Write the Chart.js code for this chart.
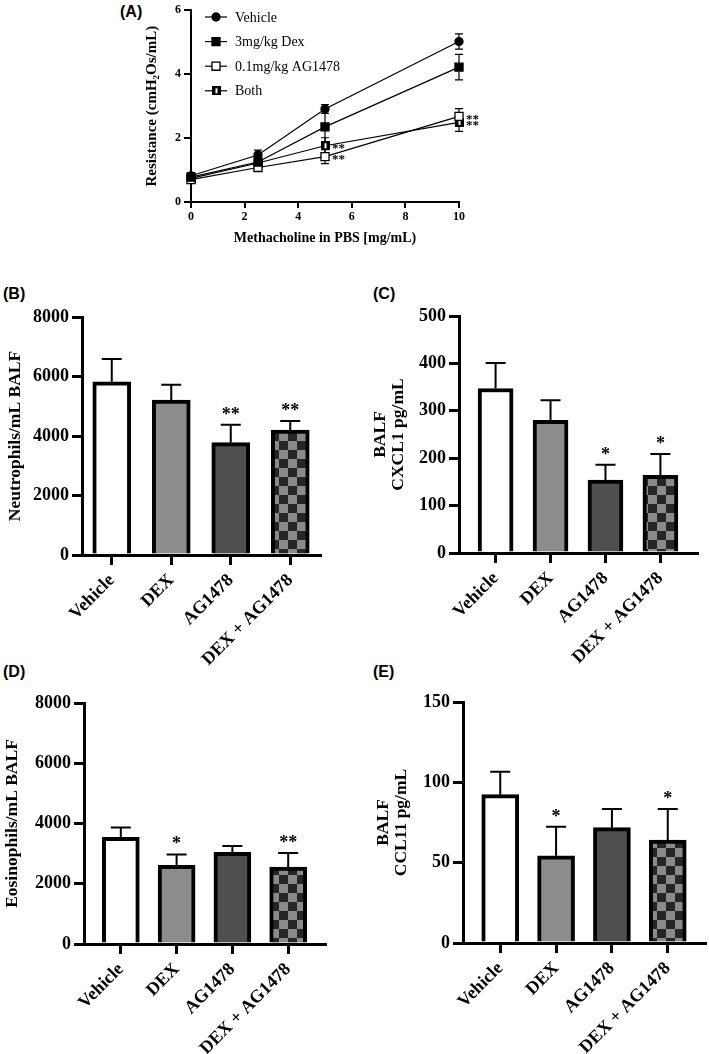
<!DOCTYPE html>
<html>
<head>
<meta charset="utf-8">
<script src="https://cdn.jsdelivr.net/npm/chart.js@4.4.1/dist/chart.umd.min.js"></script>
<style>
  html, body { margin: 0; padding: 0; background: #fff; }
  body { position: relative; width: 709px; height: 1054px; overflow: hidden; }
  .panel { position: absolute; }
  .tag { position: absolute; font: bold 16px "Liberation Sans", Arial, sans-serif; color: #000; }
</style>
</head>
<body>
<div class="tag" style="left:120px;top:3px">(A)</div>
<div class="tag" style="left:3px;top:285px">(B)</div>
<div class="tag" style="left:373px;top:285px">(C)</div>
<div class="tag" style="left:3px;top:663px">(D)</div>
<div class="tag" style="left:373px;top:663px">(E)</div>

<div class="panel" style="left:140px;top:0;width:360px;height:250px"><canvas id="chartA"></canvas></div>
<div class="panel" style="left:0;top:270px;width:345px;height:400px"><canvas id="chartB"></canvas></div>
<div class="panel" style="left:360px;top:270px;width:349px;height:400px"><canvas id="chartC"></canvas></div>
<div class="panel" style="left:0;top:650px;width:345px;height:404px"><canvas id="chartD"></canvas></div>
<div class="panel" style="left:360px;top:650px;width:349px;height:404px"><canvas id="chartE"></canvas></div>

<script>
// ---- Panel A: airway resistance vs methacholine dose
const doseX = [0, 2.5, 5, 10];
const seriesNames = ['Vehicle', '3mg/kg Dex', '0.1mg/kg AG1478', 'Both'];
const vehicleRes = [0.82, 1.47, 2.91, 5.02];
const dexRes = [0.78, 1.25, 2.35, 4.22];
const agRes = [0.70, 1.08, 1.42, 2.68];
const bothRes = [0.74, 1.22, 1.76, 2.49];
const vehicleResErr = [0.10, 0.15, 0.14, 0.24];
const dexResErr = [0.10, 0.10, 0.55, 0.40];
const agResErr = [0.10, 0.08, 0.22, 0.24];
const bothResErr = [0.10, 0.10, 0.25, 0.28];
// [series index, point index] of the ** marks
const resStars = [[3, 2], [2, 2], [2, 3], [3, 3]];
const resYTicks = [0, 2, 4, 6];
const resXTicks = [0, 2, 4, 6, 8, 10];

// ---- Panels B-E: BALF bars
const groups = ['Vehicle', 'DEX', 'AG1478', 'DEX + AG1478'];
const neutrophils = [5820, 5210, 3775, 4200];
const neutrophilsErr = [770, 515, 605, 305];
const neutrophilsSig = ['', '', '**', '**'];
const cxcl1 = [347, 280, 154, 164];
const cxcl1Err = [54, 42, 32, 45];
const cxcl1Sig = ['', '', '*', '*'];
const eosinophils = [3540, 2610, 3040, 2556];
const eosinophilsErr = [330, 365, 213, 465];
const eosinophilsSig = ['', '*', '', '**'];
const ccl11 = [92.3, 54.3, 71.8, 64.1];
const ccl11Err = [14.3, 18.1, 11.6, 19.3];
const ccl11Sig = ['', '*', '', '*'];

const serif = '"Liberation Serif", "Times New Roman", serif';

// marker for the "Both" series
function bothMarker() {
    const c = document.createElement('canvas');
    c.width = 9; c.height = 9;
    const g = c.getContext('2d');
    g.fillStyle = '#000';
    g.fillRect(0, 0, 9, 9);
    g.fillStyle = '#fff';
    g.fillRect(4, 2, 2, 5);
    return c;
}

function checkerPattern() {
    const c = document.createElement('canvas');
    c.width = 18; c.height = 18;
    const g = c.getContext('2d');
    g.fillStyle = '#8a8a8a';
    g.fillRect(0, 0, 18, 18);
    g.fillStyle = '#262626';
    g.fillRect(0, 0, 9, 9);
    g.fillRect(9, 9, 9, 9);
    return g.createPattern(c, 'repeat');
}

const resErrors = [vehicleResErr, dexResErr, agResErr, bothResErr];

const resExtras = {
    id: 'resExtras',
    beforeDatasetsDraw(chart) {
        const { ctx, scales: { y } } = chart;
        ctx.save();
        ctx.strokeStyle = '#000';
        ctx.lineWidth = 1.2;
        chart.data.datasets.forEach((ds, di) => {
            const meta = chart.getDatasetMeta(di);
            meta.data.forEach((pt, i) => {
                const v = ds.data[i].y;
                const e = resErrors[di][i];
                const top = y.getPixelForValue(v + e);
                const bot = y.getPixelForValue(v - e);
                ctx.beginPath();
                ctx.moveTo(pt.x, top); ctx.lineTo(pt.x, bot);
                ctx.moveTo(pt.x - 4, top); ctx.lineTo(pt.x + 4, top);
                ctx.moveTo(pt.x - 4, bot); ctx.lineTo(pt.x + 4, bot);
                ctx.stroke();
            });
        });
        ctx.restore();
    },
    afterDatasetsDraw(chart) {
        const { ctx } = chart;
        ctx.save();
        ctx.fillStyle = '#000';
        ctx.font = 'bold 13px ' + serif;
        ctx.textAlign = 'left';
        ctx.textBaseline = 'middle';
        resStars.forEach(([di, i]) => {
            const pt = chart.getDatasetMeta(di).data[i];
            ctx.fillText('**', pt.x + 7, pt.y + 3);
        });
        // legend, top left inside the plot
        ctx.font = '14px ' + serif;
        chart.data.datasets.forEach((ds, di) => {
            const ly = 17 + di * 24.6;
            ctx.strokeStyle = '#000';
            ctx.lineWidth = 1.2;
            ctx.beginPath();
            ctx.moveTo(65, ly); ctx.lineTo(87, ly);
            ctx.stroke();
            ctx.fillStyle = ds.pointBackgroundColor;
            ctx.strokeStyle = '#000';
            ctx.lineWidth = ds.pointBorderWidth;
            Chart.helpers.drawPoint(ctx, {
                pointStyle: ds.pointStyle,
                radius: ds.pointRadius,
                borderWidth: ds.pointBorderWidth
            }, 76, ly);
            ctx.fillStyle = '#000';
            ctx.fillText(ds.label, 95, ly + 1);
        });
        ctx.restore();
    }
};

const resSeries = [vehicleRes, dexRes, agRes, bothRes];
const pointStyles = ['circle', 'rect', 'rect', bothMarker()];
const pointRadii = [4, 5.7, 5.7, 5];
const pointFills = ['#000', '#000', '#fff', '#000'];

new Chart(document.getElementById('chartA'), {
    type: 'line',
    data: {
        datasets: resSeries.map((vals, si) => ({
            label: seriesNames[si],
            data: doseX.map((d, i) => ({ x: d, y: vals[i] })),
            borderColor: '#000',
            borderWidth: 1.2,
            pointStyle: pointStyles[si],
            pointRadius: pointRadii[si],
            pointBackgroundColor: pointFills[si],
            pointBorderColor: '#000',
            pointBorderWidth: 1.3,
            tension: 0,
            clip: false
        }))
    },
    plugins: [resExtras],
    options: {
        responsive: true,
        maintainAspectRatio: false,
        animation: false,
        layout: { padding: { top: 6, right: 41, left: 0, bottom: 0 } },
        plugins: { legend: { display: false }, tooltip: { enabled: false } },
        scales: {
            x: {
                type: 'linear', min: 0, max: 10,
                afterFit: s => { s.height = 48; },
                afterBuildTicks: s => { s.ticks = resXTicks.map(v => ({ value: v })); },
                border: { color: '#000', width: 2 },
                grid: { drawOnChartArea: false, color: '#000', lineWidth: 2, tickLength: 6 },
                ticks: { color: '#000', padding: 2, font: { family: serif, size: 12, weight: 'bold' } },
                title: {
                    display: true, text: 'Methacholine in PBS [mg/mL)', color: '#000',
                    padding: { top: 0, bottom: 3 },
                    font: { family: serif, size: 14, weight: 'bold' }
                }
            },
            y: {
                min: 0, max: 6,
                afterFit: s => { s.width = 51; },
                afterBuildTicks: s => { s.ticks = resYTicks.map(v => ({ value: v })); },
                border: { color: '#000', width: 2 },
                grid: { drawOnChartArea: false, color: '#000', lineWidth: 2, tickLength: 7 },
                ticks: { color: '#000', padding: 3, font: { family: serif, size: 12, weight: 'bold' } },
                title: {
                    display: true, text: 'Resistance (cmH₂Os/mL)', color: '#000',
                    padding: { top: 3 },
                    font: { family: serif, size: 15, weight: 'bold' }
                }
            }
        }
    }
});

// error bars and significance marks above bars
const barExtras = {
    id: 'barExtras',
    afterDatasetsDraw(chart, args, opts) {
        const { ctx, scales: { x, y } } = chart;
        const vals = chart.data.datasets[0].data;
        ctx.save();
        ctx.strokeStyle = '#000';
        ctx.fillStyle = '#000';
        ctx.lineWidth = 2;
        ctx.font = 'bold 18px ' + serif;
        ctx.textAlign = 'center';
        ctx.textBaseline = 'alphabetic';
        vals.forEach((v, i) => {
            const px = x.getPixelForValue(i);
            const base = y.getPixelForValue(v);
            const top = y.getPixelForValue(v + opts.err[i]);
            ctx.beginPath();
            ctx.moveTo(px, base); ctx.lineTo(px, top);
            ctx.moveTo(px - 10, top); ctx.lineTo(px + 10, top);
            ctx.stroke();
            if (opts.sig[i]) ctx.fillText(opts.sig[i], px, top - 5);
        });
        ctx.restore();
    }
};

function barPanel(id, values, errs, sig, yTitle, yMax, yStep, layout) {
    const canvas = document.getElementById(id);
    const pattern = checkerPattern();
    return new Chart(canvas, {
        type: 'bar',
        data: {
            labels: groups,
            datasets: [{
                data: values,
                backgroundColor: ['#ffffff', '#8c8c8c', '#4f4f4f', pattern],
                borderColor: '#000',
                borderWidth: 4,
                barThickness: layout.barW
            }]
        },
        plugins: [barExtras],
        options: {
            responsive: true,
            maintainAspectRatio: false,
            animation: false,
            layout: { padding: { top: layout.padTop, right: layout.padRight, left: 0, bottom: 0 } },
            plugins: {
                legend: { display: false },
                tooltip: { enabled: false },
                barExtras: { err: errs, sig: sig }
            },
            scales: {
                x: {
                    afterFit: s => { s.height = layout.xH; },
                    afterBuildTicks: s => {
                        s._startValue -= layout.margin;
                        s._valueRange += 2 * layout.margin;
                    },
                    border: { color: '#000', width: 3 },
                    grid: { drawOnChartArea: false, offset: false, color: '#000', lineWidth: 3, tickLength: 10 },
                    ticks: {
                        color: '#000', padding: 5, minRotation: 45, maxRotation: 45, autoSkip: false,
                        font: { family: serif, size: 18, weight: 'bold' }
                    }
                },
                y: {
                    min: 0, max: yMax,
                    afterFit: s => { s.width = layout.yW; },
                    border: { color: '#000', width: 3 },
                    grid: { drawOnChartArea: false, color: '#000', lineWidth: 3, tickLength: 10 },
                    ticks: {
                        stepSize: yStep, color: '#000', padding: 3,
                        callback: v => String(v),
                        font: { family: serif, size: 18, weight: 'bold' }
                    },
                    title: {
                        display: true, text: yTitle, color: '#000',
                        padding: { top: layout.titlePad },
                        font: { family: serif, size: 17.5, weight: 'bold', lineHeight: 1.05 }
                    }
                }
            }
        }
    });
}

barPanel('chartB', neutrophils, neutrophilsErr, neutrophilsSig, 'Neutrophils/mL BALF', 8000, 2000,
    { padTop: 47, padRight: 25, xH: 115, yW: 82, margin: 0, barW: 38, titlePad: 6 });
barPanel('chartC', cxcl1, cxcl1Err, cxcl1Sig, ['BALF', 'CXCL1 pg/mL'], 500, 100,
    { padTop: 46, padRight: 12, xH: 117, yW: 99, margin: 0.166, barW: 35, titlePad: 11 });
barPanel('chartD', eosinophils, eosinophilsErr, eosinophilsSig, 'Eosinophils/mL BALF', 8000, 2000,
    { padTop: 53, padRight: 20, xH: 110, yW: 84, margin: 0.16, barW: 37, titlePad: 3 });
barPanel('chartE', ccl11, ccl11Err, ccl11Sig, ['BALF', 'CCL11 pg/mL'], 150, 50,
    { padTop: 52, padRight: 4, xH: 111, yW: 103, margin: 0.167, barW: 37, titlePad: 14 });
</script>
</body>
</html>
